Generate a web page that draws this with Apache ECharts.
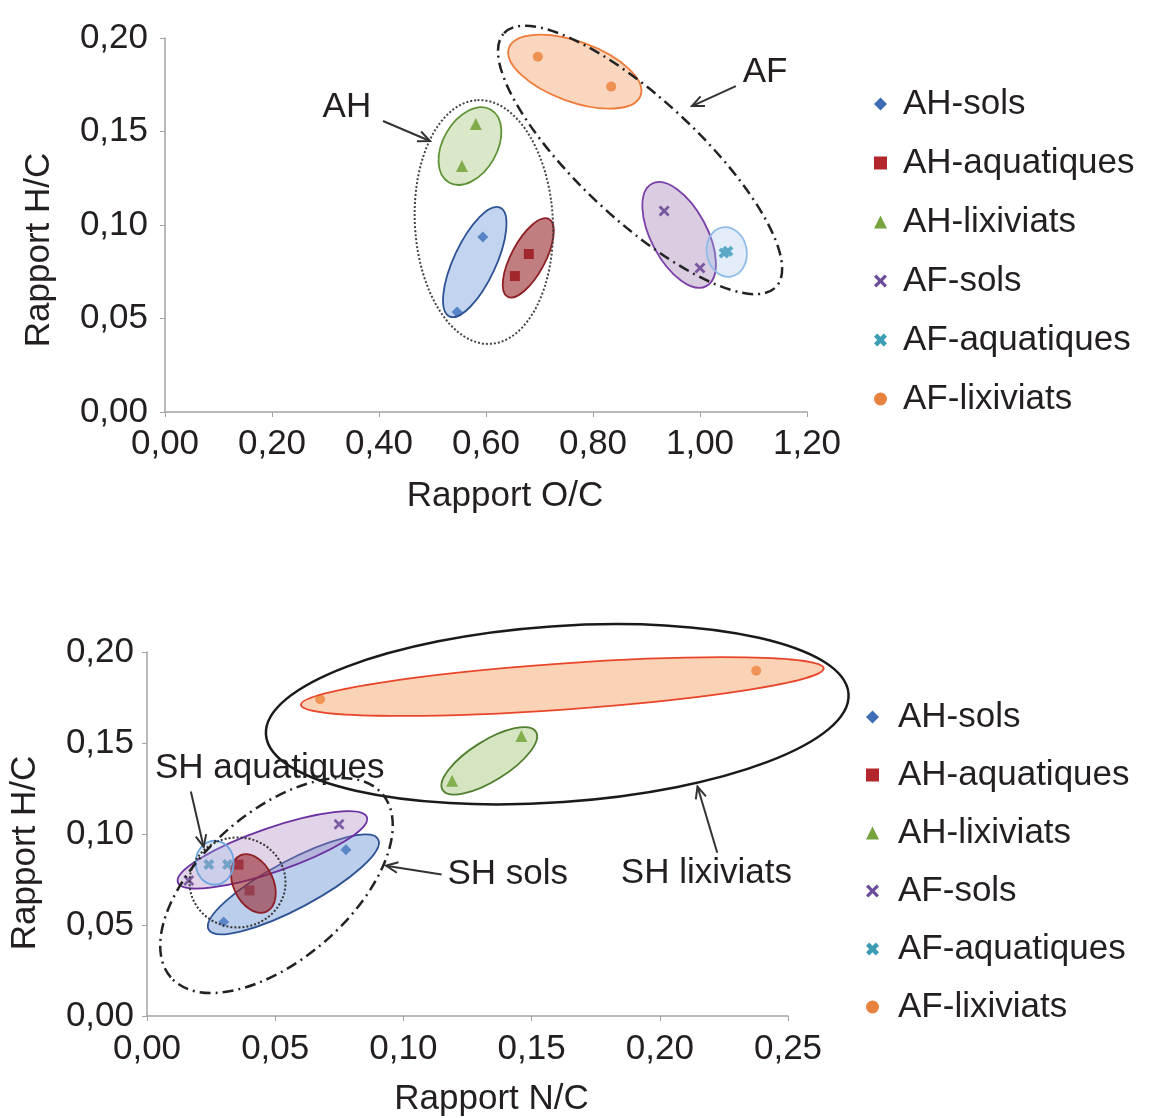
<!DOCTYPE html>
<html lang="fr">
<head>
<meta charset="utf-8">
<script src="https://cdn.jsdelivr.net/npm/echarts@6/dist/echarts.min.js"></script>
</head>
<body style="margin:0;background:#fff">
<div id="container" style="width:1149px;height:1118px"></div>
<script>
// noms des series (legende)
var names = ['AH-sols', 'AH-aquatiques', 'AH-lixiviats', 'AF-sols', 'AF-aquatiques', 'AF-lixiviats'];

// graphe du haut : [O/C, H/C]
var topAHsols = [[0.594, 0.0936], [0.546, 0.0535]];
var topAHaqua = [[0.680, 0.0845], [0.654, 0.0727]];
var topAHlix  = [[0.581, 0.154], [0.555, 0.1316]];
var topAFsols = [[0.933, 0.1075], [1.000, 0.077]];
var topAFaqua = [[1.045, 0.0850], [1.052, 0.0860]];
var topAFlix  = [[0.697, 0.190], [0.834, 0.174]];

// graphe du bas : [N/C, H/C]
var botAHsols = [[0.0776, 0.0913], [0.0299, 0.0516]];
var botAHaqua = [[0.0357, 0.0832], [0.0400, 0.0690]];
var botAHlix  = [[0.119, 0.1293], [0.146, 0.1538]];
var botAFsols = [[0.0749, 0.1054], [0.0163, 0.0745]];
var botAFaqua = [[0.0241, 0.0832], [0.0314, 0.0832]];
var botAFlix  = [[0.0675, 0.174], [0.2376, 0.1897]];

var xTicksTop = [0, 1.2, 0.2];
var xTicksBot = [0, 0.25, 0.05];
var yTicks = [0, 0.2, 0.05];

var FONT = '"Liberation Sans", Arial, sans-serif';
var TXT = '#231f20';

var crossPath = 'path://M0,1.8 L1.8,0 L5,3.2 L8.2,0 L10,1.8 L6.8,5 L10,8.2 L8.2,10 L5,6.8 L1.8,10 L0,8.2 L3.2,5 Z';
var crossFat = 'path://M0,2.5 L2.5,0 L5,2.5 L7.5,0 L10,2.5 L7.5,5 L10,7.5 L7.5,10 L5,7.5 L2.5,10 L0,7.5 L2.5,5 Z';
var symbols = ['diamond', 'rect', 'triangle', crossPath, crossFat, 'circle'];
var symSizes = [11, 10, 12, 11, 11, 10];
var colors = ['#3d6db5', '#b3262c', '#76a33e', '#6b4c9a', '#3c9db5', '#e8833f'];

// ellipses de regroupement (centre en coordonnees de donnees)
var ellTop = [
    {c: [0.766, 0.182], rx: 70, ry: 30, angle: 20, fill: 'rgba(245,165,110,0.45)', stroke: '#ee7b3a'},
    {c: [0.570, 0.1422], rx: 42, ry: 27, angle: -60, fill: 'rgba(150,190,100,0.35)', stroke: '#5f9236'},
    {c: [0.579, 0.0802], rx: 60, ry: 21, angle: -65, fill: 'rgba(120,160,220,0.45)', stroke: '#2e5395'},
    {c: [0.679, 0.0824], rx: 44, ry: 17, angle: -62, fill: 'rgba(150,40,45,0.6)', stroke: '#8e1f24'},
    {c: [0.961, 0.0947], rx: 58, ry: 28, angle: 62, fill: 'rgba(150,110,170,0.35)', stroke: '#7a3fa8'},
    {c: [1.050, 0.0856], rx: 25, ry: 20, angle: 80, fill: 'rgba(160,195,235,0.3)', stroke: '#8fbce9'},
    {c: [0.596, 0.1016], rx: 122, ry: 69, angle: 87, stroke: '#444', lw: 2, dash: [2, 2]},
    {c: [0.888, 0.1348], rx: 186, ry: 60, angle: 43, stroke: '#222', lw: 2.5, dash: [11, 5, 2, 5]}
];
var ellBot = [
    {c: [0.160, 0.1658], rx: 292, ry: 88, angle: -4, stroke: '#1a1a1a', lw: 2.5},
    {c: [0.162, 0.181], rx: 262, ry: 23, angle: -4, fill: 'rgba(245,165,110,0.5)', stroke: '#e8452a'},
    {c: [0.1335, 0.1402], rx: 55, ry: 20, angle: -32, fill: 'rgba(150,190,100,0.4)', stroke: '#4f7f2e'},
    {c: [0.0571, 0.0723], rx: 96, ry: 24, angle: -28, fill: 'rgba(120,160,220,0.5)', stroke: '#2e5395'},
    {c: [0.0489, 0.0913], rx: 100, ry: 22, angle: -19, fill: 'rgba(170,130,190,0.35)', stroke: '#6a2fa0'},
    {c: [0.0415, 0.0728], rx: 31, ry: 20, angle: 65, fill: 'rgba(150,40,45,0.6)', stroke: '#8e1f24'},
    {c: [0.0264, 0.0842], rx: 22, ry: 19, angle: 90, fill: 'rgba(160,195,235,0.3)', stroke: '#6fa6e0'},
    {c: [0.0353, 0.0734], rx: 48, ry: 45, angle: 0, stroke: '#333', lw: 2, dash: [2, 2]},
    {c: [0.0505, 0.0717], rx: 140, ry: 74, angle: -41, stroke: '#222', lw: 2.5, dash: [11, 5, 2, 5]}
];

// annotations (texte et fleches, coordonnees de donnees)
var notesTop = [
    {text: 'AH', at: [0.340, 0.163], align: 'center'},
    {text: 'AF', at: [1.1215, 0.1818], align: 'center'}
];
var arrowsTop = [
    [[0.4075, 0.1556], [0.4953, 0.1449]],
    [[1.067, 0.1743], [0.985, 0.1636]]
];
var notesBot = [
    {text: 'SH aquatiques', at: [0.0031, 0.1359], align: 'left'},
    {text: 'SH sols', at: [0.1172, 0.0777], align: 'left'},
    {text: 'SH lixiviats', at: [0.1848, 0.0783], align: 'left'}
];
var arrowsBot = [
    [[0.0171, 0.1234], [0.0221, 0.0929]],
    [[0.1149, 0.0777], [0.0932, 0.0826]],
    [[0.2224, 0.0897], [0.2147, 0.1261]]
];

var dom = document.getElementById('container');
var chart = echarts.init(dom);

function fmt(v) { return v.toFixed(2).replace('.', ','); }

function axisStyle() {
    return {
        axisLine: {lineStyle: {color: '#a3a3a3', width: 1.5}},
        axisTick: {show: true, length: 5, lineStyle: {color: '#a3a3a3'}},
        splitLine: {show: false}
    };
}

function xAxis(gi, t, name, gap, margin, shift) {
    return Object.assign(axisStyle(), {
        type: 'value', gridIndex: gi, min: t[0], max: t[1], interval: t[2],
        name: name, nameLocation: 'middle', nameGap: gap,
        nameTextStyle: {fontSize: 35, fontFamily: FONT, color: TXT, padding: [0, 0, 0, shift]},
        axisLabel: {fontSize: 35, fontFamily: FONT, color: TXT, margin: margin, formatter: fmt}
    });
}

function yAxis(gi, name, gap, margin, shift) {
    return Object.assign(axisStyle(), {
        type: 'value', gridIndex: gi, min: yTicks[0], max: yTicks[1], interval: yTicks[2],
        name: name, nameLocation: 'middle', nameGap: gap,
        nameTextStyle: {fontSize: 35, fontFamily: FONT, color: TXT, padding: [0, shift, 0, 0]},
        axisLabel: {fontSize: 35, fontFamily: FONT, color: TXT, margin: margin, formatter: fmt}
    });
}

function scatter(gi, idx, data) {
    return {
        type: 'scatter', name: names[idx], xAxisIndex: gi, yAxisIndex: gi,
        symbol: symbols[idx], symbolSize: symSizes[idx],
        itemStyle: {color: colors[idx], opacity: 1},
        data: data, z: 3
    };
}

function ellipses(gi, list) {
    return {
        type: 'custom', xAxisIndex: gi, yAxisIndex: gi, silent: true, z: 5,
        data: list.map(function (e) { return e.c; }),
        encode: {x: 0, y: 1},
        renderItem: function (params, api) {
            var e = list[params.dataIndex];
            var p = api.coord([api.value(0), api.value(1)]);
            return {
                type: 'ellipse',
                x: p[0], y: p[1],
                rotation: -e.angle * Math.PI / 180,
                shape: {cx: 0, cy: 0, rx: e.rx, ry: e.ry},
                style: {
                    fill: e.fill || 'none',
                    stroke: e.stroke,
                    lineWidth: e.lw || 1.8,
                    lineDash: e.dash || null
                }
            };
        }
    };
}

function legend(left, top, gap, pad) {
    return {
        orient: 'vertical', left: left, top: top, itemGap: gap,
        itemWidth: 13, itemHeight: 13, selectedMode: false,
        data: names,
        textStyle: {fontSize: 35, lineHeight: 36, fontFamily: FONT, color: TXT, padding: [0, 0, 0, pad]}
    };
}

var option = {
    backgroundColor: '#fff',
    animation: false,
    grid: [
        {left: 165, top: 38, width: 642, height: 374},
        {left: 144, top: 652, width: 644, height: 368}
    ],
    xAxis: [
        xAxis(0, xTicksTop, 'Rapport O/C', 67, 15, 38),
        xAxis(1, xTicksBot, 'Rapport N/C', 66, 16, 48)
    ],
    yAxis: [
        yAxis(0, 'Rapport H/C', 108, 17, 50),
        yAxis(1, 'Rapport H/C', 104, 13, 38)
    ],
    legend: [
        legend(869, 81, 23, 11),
        legend(861, 694, 22, 14)
    ],
    series: [
        scatter(0, 0, topAHsols), scatter(0, 1, topAHaqua), scatter(0, 2, topAHlix),
        scatter(0, 3, topAFsols), scatter(0, 4, topAFaqua), scatter(0, 5, topAFlix),
        scatter(1, 0, botAHsols), scatter(1, 1, botAHaqua), scatter(1, 2, botAHlix),
        scatter(1, 3, botAFsols), scatter(1, 4, botAFaqua), scatter(1, 5, botAFlix),
        ellipses(0, ellTop),
        ellipses(1, ellBot)
    ]
};
chart.setOption(option);

// textes et fleches places via les axes
function toPx(gi, p) { return chart.convertToPixel({gridIndex: gi}, p); }

function arrowEls(gi, seg) {
    var a = toPx(gi, seg[0]), b = toPx(gi, seg[1]);
    var ang = Math.atan2(b[1] - a[1], b[0] - a[0]);
    var L = 13, w = 0.42;
    var h1 = [b[0] - L * Math.cos(ang - w), b[1] - L * Math.sin(ang - w)];
    var h2 = [b[0] - L * Math.cos(ang + w), b[1] - L * Math.sin(ang + w)];
    return [
        {type: 'line', z: 10, shape: {x1: a[0], y1: a[1], x2: b[0], y2: b[1]}, style: {stroke: '#333', lineWidth: 2}},
        {type: 'polyline', z: 10, shape: {points: [h1, b, h2]}, style: {stroke: '#333', lineWidth: 2, fill: null}}
    ];
}

function noteEl(gi, n) {
    var p = toPx(gi, n.at);
    return {
        type: 'text', z: 10, x: p[0], y: p[1],
        style: {text: n.text, fontSize: 35, fontFamily: FONT, fill: TXT, align: n.align, verticalAlign: 'middle'}
    };
}

var graphics = [];
notesTop.forEach(function (n) { graphics.push(noteEl(0, n)); });
notesBot.forEach(function (n) { graphics.push(noteEl(1, n)); });
arrowsTop.forEach(function (s) { graphics = graphics.concat(arrowEls(0, s)); });
arrowsBot.forEach(function (s) { graphics = graphics.concat(arrowEls(1, s)); });
chart.setOption({graphic: graphics});
</script>
</body>
</html>
